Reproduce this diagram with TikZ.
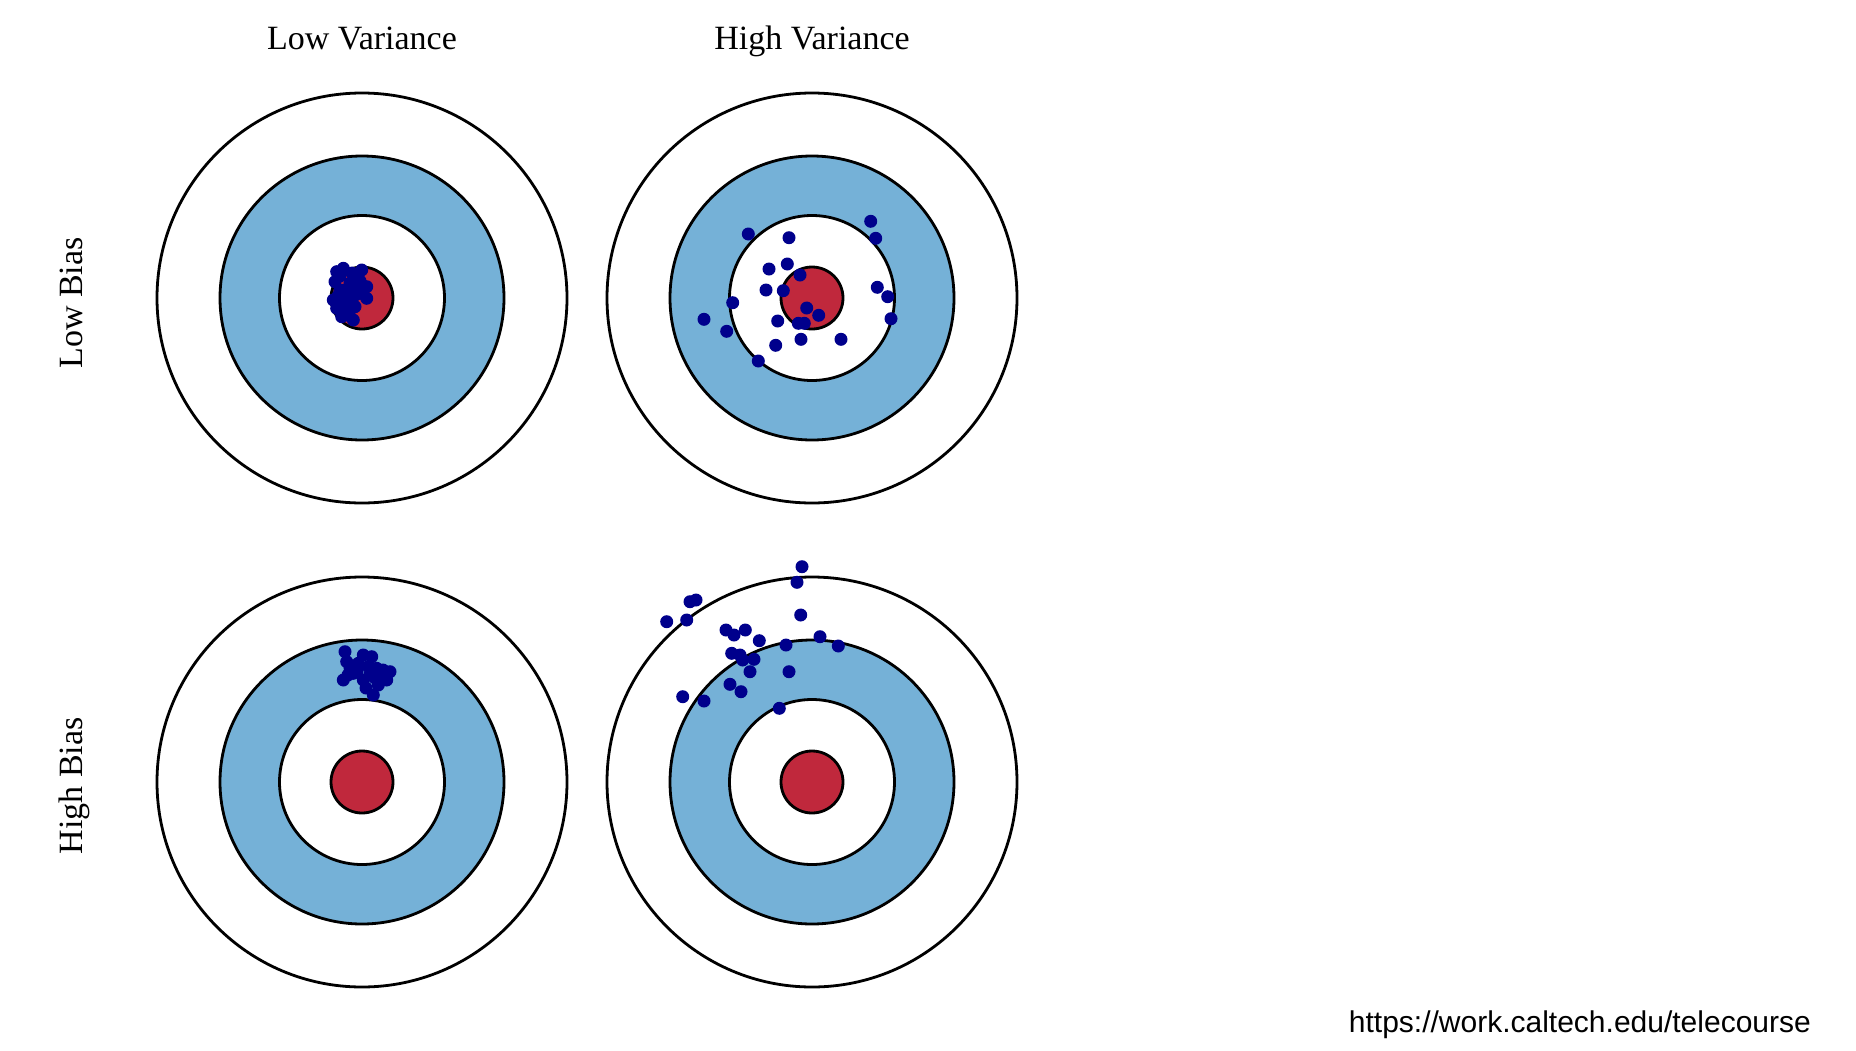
\documentclass[tikz,border=0pt]{standalone}
\usepackage{fontspec}
\setmainfont{Liberation Serif}
\newfontfamily\urlfont{Liberation Sans}
\definecolor{ringblue}{RGB}{117,177,215}
\definecolor{bullred}{RGB}{192,40,60}
\definecolor{dotnavy}{RGB}{0,0,140}
\tikzset{
  ring/.style={draw=black, line width=2.8pt},
  hit/.style={fill=dotnavy},
  lbl/.style={font=\fontsize{34}{36}\selectfont, inner sep=0pt, anchor=base},
}
\newcommand{\target}[2]{%
  \draw[ring, fill=white] (#1,#2) circle (205);
  \draw[ring, fill=ringblue] (#1,#2) circle (142);
  \draw[ring, fill=white] (#1,#2) circle (82.5);
  \draw[ring, fill=bullred] (#1,#2) circle (31);
}
\begin{document}
\begin{tikzpicture}[x=1pt,y=-1pt]
\useasboundingbox (0,0) rectangle (1856,1050);
\fill[white] (0,0) rectangle (1856,1050);
\target{362}{298}
\target{812}{298}
\target{362}{782}
\target{812}{782}
% top-left: low bias, low variance
\foreach \x/\y in {336.7/271.7,343.3/268.3,361.7/270,335/281.7,350/283.3,366.7/286.7,360/293.3,333.3/300,346.7/300,340/290,336.7/308.3,355/306.7,346.7/315,353.3/320,366.7/298.3,341.7/316.7,340/276,352/273,345/290,355/295,343/305,350/310,360/281,338/296,348/292,357/286,352/301}
  \fill[hit] (\x,\y) circle (6.5);
% top-right: low bias, high variance
\foreach \x/\y in {748.3/234,789/237.7,870.7/221.3,875.7/238.3,769/269,787.3/264,800/275,766/290,783.3/290.7,877.3/287.3,887.7/296.7,732.7/302.7,806.7/308,818.7/315.3,891/318.7,704/319.3,777.7/321,798.3/323.3,804.3/323.3,726.7/331.3,801/339.3,841/339.3,775.7/345.3,758.3/361}
  \fill[hit] (\x,\y) circle (6.5);
% bottom-left: high bias, low variance
\foreach \x/\y in {345/651.7,346.7/661.7,343.3/680,353.3/673.3,363.3/655,371.7/656.7,368.3/666.7,363.3/680,376.7/668.3,390/671.7,386.7/680,378.3/685,373.3/695,358.3/663.3,381.7/675,350/668,357/672,370/675,366/688,375/678,383/670,348/675}
  \fill[hit] (\x,\y) circle (6.5);
% bottom-right: high bias, high variance
\foreach \x/\y in {802/566.7,797/582.3,690/601.7,696/600,666.7/621.7,686.7/620,800.7/615,726/630,734/635,745.3/630,759.3/640.7,786/645,820/636.7,838.3/646,731.7/653.3,740/655,742.7/660,754/659.3,750/671.7,789/671.7,730/684.3,741/691.7,682.7/696.7,704/701,779.3/708.3}
  \fill[hit] (\x,\y) circle (6.5);
% labels
\node[lbl] (lowvar) at (362,49) {Low Variance};
\node[lbl] (highvar) at (812,49) {High Variance};
\node[lbl, rotate=90] (lowbias) at (82,303) {Low Bias};
\node[lbl, rotate=90] (highbias) at (82,786) {High Bias};
\node[font=\urlfont\fontsize{30}{32}\selectfont, inner sep=0pt, anchor=base east] (src) at (1811,1032) {https://work.caltech.edu/telecourse};
\end{tikzpicture}
\end{document}
